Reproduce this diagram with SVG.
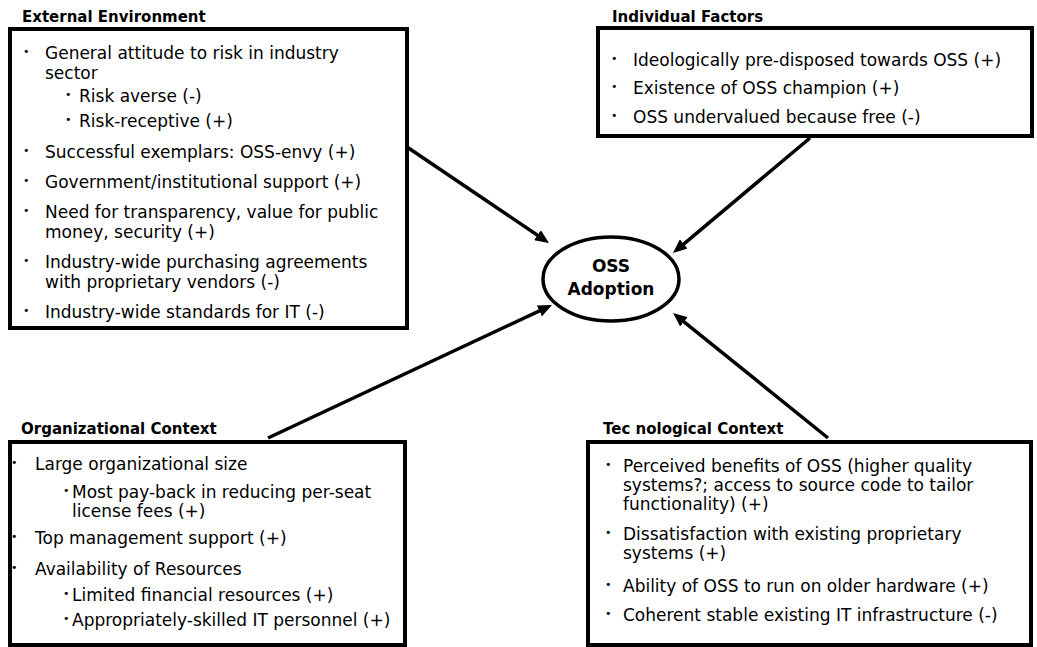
<svg xmlns="http://www.w3.org/2000/svg" width="1037" height="647" viewBox="0 0 1037 647">
<style>
  .box { fill: #ffffff; stroke: #000000; stroke-width: 4; }
  .title { font-family: "DejaVu Sans", "Liberation Sans", sans-serif; font-size: 15px; font-weight: bold; fill: #000; }
  .t { font-family: "DejaVu Sans", "Liberation Sans", sans-serif; font-size: 17px; fill: #000; }
  .b { font-family: "DejaVu Sans", "Liberation Sans", sans-serif; font-size: 11px; fill: #000; }
  .conn { stroke: #000; stroke-width: 3.5; fill: none; marker-end: url(#arrow); }
  .oval { fill: #fff; stroke: #000; stroke-width: 3.5; }
  .ovalt { font-family: "DejaVu Sans", "Liberation Sans", sans-serif; font-size: 17px; font-weight: bold; fill: #000; text-anchor: middle; }
</style>
<defs>
  <marker id="arrow" markerUnits="userSpaceOnUse" markerWidth="14" markerHeight="12" viewBox="0 0 14 12" refX="9" refY="6" orient="auto">
    <path d="M0,0 L14,6 L0,12 z" fill="#000"/>
  </marker>
</defs>
<rect width="1037" height="647" fill="#fff"/>

<g id="external-environment">
  <text class="title" x="22" y="22">External Environment</text>
  <rect class="box" x="10" y="29" width="397" height="299"/>
  <text class="b" x="23" y="55">•</text>
  <text class="t" x="45" y="59">General attitude to risk in industry</text>
  <text class="t" x="45" y="79">sector</text>
  <text class="b" x="65" y="98">•</text>
  <text class="t" x="79" y="102">Risk averse (-)</text>
  <text class="b" x="65" y="123">•</text>
  <text class="t" x="79" y="127">Risk-receptive (+)</text>
  <text class="b" x="23" y="154">•</text>
  <text class="t" x="45" y="158">Successful exemplars: OSS-envy (+)</text>
  <text class="b" x="23" y="184">•</text>
  <text class="t" x="45" y="188">Government/institutional support (+)</text>
  <text class="b" x="23" y="214">•</text>
  <text class="t" x="45" y="218">Need for transparency, value for public</text>
  <text class="t" x="45" y="238">money, security (+)</text>
  <text class="b" x="23" y="264">•</text>
  <text class="t" x="45" y="268">Industry-wide purchasing agreements</text>
  <text class="t" x="45" y="288">with proprietary vendors (-)</text>
  <text class="b" x="23" y="314">•</text>
  <text class="t" x="45" y="318">Industry-wide standards for IT (-)</text>
</g>

<g id="individual-factors">
  <text class="title" x="612" y="22">Individual Factors</text>
  <rect class="box" x="598" y="28" width="434" height="108"/>
  <text class="b" x="611" y="62">•</text>
  <text class="t" x="633" y="66">Ideologically pre-disposed towards OSS (+)</text>
  <text class="b" x="611" y="90">•</text>
  <text class="t" x="633" y="94">Existence of OSS champion (+)</text>
  <text class="b" x="611" y="119">•</text>
  <text class="t" x="633" y="123">OSS undervalued because free (-)</text>
</g>

<g id="organizational-context">
  <text class="title" x="21" y="434">Organizational Context</text>
  <rect class="box" x="10" y="442" width="395" height="203"/>
  <text class="b" x="11" y="466">•</text>
  <text class="t" x="35" y="470">Large organizational size</text>
  <text class="b" x="63" y="494">•</text>
  <text class="t" x="72" y="498">Most pay-back in reducing per-seat</text>
  <text class="t" x="72" y="517">license fees (+)</text>
  <text class="b" x="11" y="540">•</text>
  <text class="t" x="35" y="544">Top management support (+)</text>
  <text class="b" x="11" y="571">•</text>
  <text class="t" x="35" y="575">Availability of Resources</text>
  <text class="b" x="63" y="597">•</text>
  <text class="t" x="72" y="601">Limited financial resources (+)</text>
  <text class="b" x="63" y="622">•</text>
  <text class="t" x="72" y="626">Appropriately-skilled IT personnel (+)</text>
</g>

<g id="technological-context">
  <text class="title" x="603" y="434">Tec nological Context</text>
  <rect class="box" x="588" y="442" width="443" height="203"/>
  <text class="b" x="605" y="468">•</text>
  <text class="t" x="623" y="472">Perceived benefits of OSS (higher quality</text>
  <text class="t" x="623" y="491">systems?; access to source code to tailor</text>
  <text class="t" x="623" y="510">functionality) (+)</text>
  <text class="b" x="605" y="536">•</text>
  <text class="t" x="623" y="540">Dissatisfaction with existing proprietary</text>
  <text class="t" x="623" y="559">systems (+)</text>
  <text class="b" x="605" y="588">•</text>
  <text class="t" x="623" y="592">Ability of OSS to run on older hardware (+)</text>
  <text class="b" x="605" y="617">•</text>
  <text class="t" x="623" y="621">Coherent stable existing IT infrastructure (-)</text>
</g>

<g id="oss-adoption">
  <ellipse class="oval" cx="611" cy="279" rx="68" ry="42"/>
  <text class="ovalt" x="611" y="272">OSS</text>
  <text class="ovalt" x="611" y="295">Adoption</text>
</g>

<g id="connectors">
  <line class="conn" x1="407" y1="147" x2="544.9" y2="240.2"/>
  <line class="conn" x1="810" y1="138" x2="676.8" y2="249.8"/>
  <line class="conn" x1="268" y1="438" x2="547.5" y2="307.1"/>
  <line class="conn" x1="828" y1="438" x2="676.9" y2="316.1"/>
</g>
</svg>
